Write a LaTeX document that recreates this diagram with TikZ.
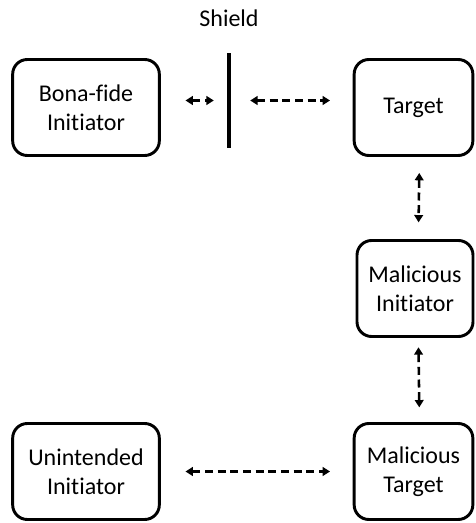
\documentclass[tikz,border=0pt]{standalone}
\usepackage{fontspec}
\setmainfont{Carlito}[Ligatures=CommonOff]
\usetikzlibrary{arrows.meta}

\begin{document}
\begin{tikzpicture}[x=0.75pt, y=-0.75pt,
		party/.style={draw, line width=2.2pt, rounded corners=11pt, align=center,
			minimum width=110pt, minimum height=72pt, inner sep=0pt,
			font=\fontsize{18}{21.5}\selectfont},
		link/.style={{Triangle[length=5.5pt, width=6.5pt]}-{Triangle[length=5.5pt, width=6.5pt]},
			line width=1.9pt, dash pattern=on 6pt off 3.5pt}]
			\useasboundingbox (0,0) rectangle (475,523);

			\node[party] (bonafide) at (86,  107.5)  {Bona-fide\\Initiator};
			\node[party, minimum width=89pt] (target) at (413.5, 107.5)  {Target};
			\node[party, minimum width=87pt] (malinit) at (415,  288.5)  {Malicious\\Initiator};
			\node[party, minimum width=89pt] (maltarget) at (413.5, 471.5)  {Malicious\\Target};
			\node[party] (unintended) at (86,  471.5)  {Unintended\\Initiator};

			\node[fill, minimum width=3.4pt, minimum height=71pt, inner sep=0pt] (shield) at (229, 100.5)  {};
			\node[font=\fontsize{18}{21.5}\selectfont] (shieldlabel) at (229, 18)  {Shield};

			\path (shield -| bonafide.east) edge[link, shorten <=18.5pt, shorten >=9.5pt] (shield.west);
			\path (shield.east) edge[link, shorten <=14pt, shorten >=17pt] (shield -| target.west);
			\path ([xshift=4.5pt]target.south) edge[link, shorten <=12pt, shorten >=12.5pt] ([xshift=2.5pt]malinit.north);
			\path ([xshift=2.5pt]malinit.south) edge[link, shorten <=7pt, shorten >=11pt] ([xshift=4.5pt]maltarget.north);
			\path (unintended.east) edge[link, shorten <=18.5pt, shorten >=17pt] (maltarget.west);

		\end{tikzpicture}
\end{document}
